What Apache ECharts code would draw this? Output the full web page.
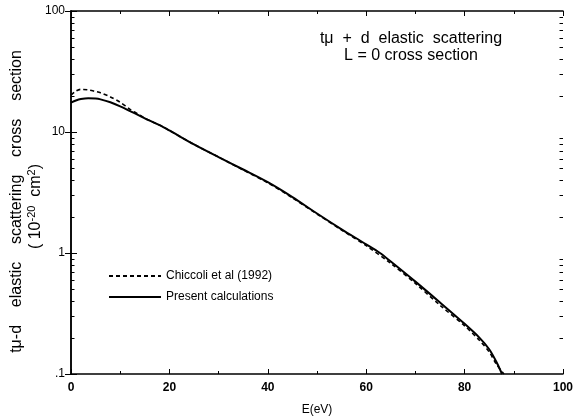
<!DOCTYPE html>
<html><head><meta charset="utf-8">
<script src="https://cdn.jsdelivr.net/npm/echarts@6/dist/echarts.min.js"></script>
<style>html,body{margin:0;padding:0;background:#fff}#c{width:574px;height:419px}</style>
</head><body><div id="c"></div>
<script>
const energyPresent = [0,1,2,3.5,5,6,8,10,12,14,16,18,20,25,30,35,40,45,50,55,60,62.8,65,70,75,80,83,85,86.5,87.6];
const sigmaPresent = [17.5,18.2,18.7,19.0,18.9,18.6,17.6,16.3,14.9,13.6,12.4,11.4,10.3,7.9,6.2,4.9,3.85,2.9,2.12,1.57,1.18,1.0,0.85,0.58,0.39,0.26,0.20,0.16,0.125,0.1];
const energyChiccoli = [0,1,2,3.5,5,6,8,10,12,14,16,18,20,25,30,35,40,45,50,55,60,65,70,75,80,83,85,86.5,88];
const sigmaChiccoli = [20.2,21.8,22.5,22.3,21.6,21.1,19.5,17.6,15.4,13.8,12.4,11.4,10.3,7.9,6.2,4.85,3.8,2.86,2.1,1.55,1.15,0.82,0.56,0.37,0.25,0.19,0.152,0.12,0.1];
const yTickLabels = {0.1:'.1',1:'1',10:'10',100:'100'};
const yMinorTicks = [0.2,0.3,0.4,0.5,0.6,0.7,0.8,0.9,2,3,4,5,6,7,8,9,20,30,40,50,60,70,80,90];

const font = 'Liberation Sans, Arial, sans-serif';
const chart = echarts.init(document.getElementById('c'));
const zip = (a,b)=>a.map((v,i)=>[v,b[i]]);
const axisLine = {show:true,lineStyle:{color:'#000',width:1.5}};
chart.setOption({
  animation:false,
  backgroundColor:'#fff',
  title:{text:'tμ  +  d  elastic  scattering\nL = 0 cross section',left:406,top:25,textAlign:'center',
    textStyle:{fontFamily:font,fontSize:16,fontWeight:'normal',color:'#000',lineHeight:17}},
  legend:{orient:'vertical',left:103,top:265,itemWidth:52,itemHeight:10,itemGap:9,
    itemStyle:{opacity:0},
    textStyle:{fontFamily:font,fontSize:12,color:'#000'},
    data:['Chiccoli et al (1992)','Present calculations']},
  grid:{left:71,right:11,top:11,bottom:45,outerBoundsMode:'none',containLabel:false},
  xAxis:[{type:'value',min:0,max:100,interval:20,
    axisLine:axisLine,axisTick:{inside:true,length:5,lineStyle:{color:'#000'}},
    minorTick:{show:true,splitNumber:2,length:3,lineStyle:{color:'#000'}},
    splitLine:{show:false},
    axisLabel:{fontFamily:font,fontSize:12,fontWeight:'bold',color:'#000',margin:8},
    name:'E(eV)',nameLocation:'middle',nameGap:30,nameTextStyle:{fontFamily:font,fontSize:12,color:'#000'}},
   {type:'value',position:'top',min:0,max:100,interval:20,
    axisLine:axisLine,axisTick:{inside:true,length:5,lineStyle:{color:'#000'}},
    minorTick:{show:true,splitNumber:2,length:3,lineStyle:{color:'#000'}},
    splitLine:{show:false},axisLabel:{show:false}}],
  yAxis:[{type:'log',logBase:10,min:0.1,max:100,
    axisLine:axisLine,axisTick:{inside:true,length:6,lineStyle:{color:'#000'}},
    minorTick:{show:false},
    splitLine:{show:false},
    axisLabel:{fontFamily:font,fontSize:12,color:'#000',margin:6,formatter:v=>yTickLabels[+v.toPrecision(3)]||''},
    name:'{n|tμ-d    elastic    scattering    cross    section}{p1|}\n{n|( 10}{s|-20}{n|  cm}{s|2}{n|)}{p2|}',
    nameLocation:'middle',nameGap:26,nameRotate:90,nameMoveOverlap:false,
    nameTextStyle:{fontFamily:font,fontSize:16,color:'#000',lineHeight:19,
      rich:{n:{fontFamily:font,fontSize:16,color:'#000',lineHeight:19},
            s:{fontFamily:font,fontSize:11,color:'#000',lineHeight:19,verticalAlign:'top'},
            p1:{width:18,lineHeight:19},
            p2:{width:28,lineHeight:19}}}},
   {type:'log',logBase:10,min:0.1,max:100,position:'right',
    axisLine:axisLine,axisTick:{inside:true,length:6,lineStyle:{color:'#000'}},
    minorTick:{show:false},
    splitLine:{show:false},axisLabel:{show:false}}],
  series:[
    {name:'Chiccoli et al (1992)',type:'line',data:zip(energyChiccoli,sigmaChiccoli),symbol:'none',smooth:0.3,
      lineStyle:{color:'#000',width:1.6,type:[4,3]},itemStyle:{color:'#000'}},
    {name:'Present calculations',type:'line',data:zip(energyPresent,sigmaPresent),symbol:'none',smooth:0.3,
      lineStyle:{color:'#000',width:2},itemStyle:{color:'#000'}}
  ]
});
// log-scale minor ticks on left and right axes, positioned via the axis scale
const xL = chart.convertToPixel({xAxisIndex:0}, 0);
const xR = chart.convertToPixel({xAxisIndex:0}, 100);
const ticks = [];
yMinorTicks.forEach(v=>{
  const y = Math.round(chart.convertToPixel({yAxisIndex:0}, v)) + 0.5;
  ticks.push({type:'line',shape:{x1:xL,y1:y,x2:xL+3.5,y2:y},style:{stroke:'#000',lineWidth:1}});
  ticks.push({type:'line',shape:{x1:xR,y1:y,x2:xR-3.5,y2:y},style:{stroke:'#000',lineWidth:1}});
});
chart.setOption({graphic:ticks});
</script></body></html>
